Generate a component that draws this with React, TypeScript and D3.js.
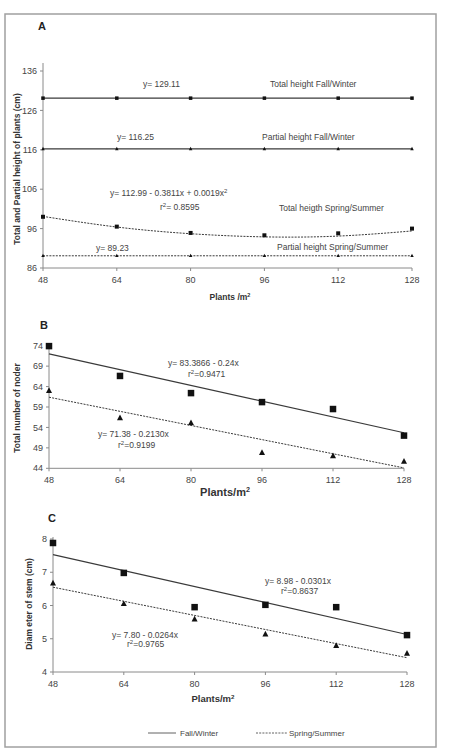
import React from "react";
import * as d3 from "d3";

// plants per m2
const densities = [48, 64, 80, 96, 112, 128];

// Panel A - height (cm)
const totalFallA = [129.11, 129.11, 129.11, 129.11, 129.11, 129.11];
const partialFallA = [116.25, 116.25, 116.25, 116.25, 116.25, 116.25];
const totalSpringA = [99.0, 96.5, 94.9, 94.3, 94.8, 96.0];
const totalSpringTrendA = [99.1, 96.4, 94.7, 93.9, 94.1, 95.4];
const partialSpringA = [89.1, 89.1, 89.1, 89.1, 89.1, 89.1];
const ticksA = [86, 96, 106, 116, 126, 136];

// Panel B - number of nodes
const fallB = [73.9, 66.6, 62.4, 60.2, 58.5, 52.0];
const springB = [63.0, 56.3, 55.1, 47.8, 47.0, 45.7];
const fallTrendB = [72.0, 52.7];
const springTrendB = [61.4, 44.1];
const ticksB = [44, 49, 54, 59, 64, 69, 74];

// Panel C - stem diameter
const fallC = [7.88, 6.98, 5.95, 6.02, 5.95, 5.11];
const springC = [6.67, 6.05, 5.59, 5.14, 4.79, 4.56];
const fallTrendC = [7.53, 5.13];
const springTrendC = [6.55, 4.43];
const ticksC = [4, 5, 6, 7, 8];

const trendX = [48, 128];

const FONT = "'Liberation Sans', Arial, sans-serif";
const AXIS = "#8a8a8a";
const TXT = "#444";
const LINE = "#3a3a3a";

type Series = {
  values: number[];
  xs?: number[];
  marker?: "square" | "triangle";
  size?: number;
  dash?: string;
  curve?: boolean;
  width?: number;
};

type Note = { x: number; y: number; text: React.ReactNode; anchor?: string };

function Marker({ kind, cx, cy, s }: { kind: string; cx: number; cy: number; s: number }) {
  if (kind === "square") {
    return <rect x={cx - s / 2} y={cy - s / 2} width={s} height={s} fill="#111" />;
  }
  const h = s * 0.95;
  return (
    <path
      d={`M${cx},${cy - h * 0.6} L${cx + s / 2},${cy + h * 0.4} L${cx - s / 2},${cy + h * 0.4} Z`}
      fill="#111"
    />
  );
}

function Panel(props: {
  letter: string;
  letterPos: [number, number];
  xRange: [number, number];
  yRange: [number, number];
  yDomain: [number, number];
  yTicks: number[];
  axisTop: number;
  series: Series[];
  notes: Note[];
  yTitle: string;
  yTitlePos: [number, number];
  xTitle: React.ReactNode;
  xTitlePos: [number, number];
  xTitleSize: number;
}) {
  const x = d3.scaleLinear().domain([48, 128]).range(props.xRange);
  const y = d3.scaleLinear().domain(props.yDomain).range(props.yRange);
  const x0 = props.xRange[0];
  const yBottom = props.yRange[0];

  return (
    <g>
      <text x={props.letterPos[0]} y={props.letterPos[1]} fontSize={11} fontWeight="bold" fill="#222" fontFamily={FONT}>
        {props.letter}
      </text>

      {/* axes */}
      <line x1={x0} x2={x0} y1={props.axisTop} y2={yBottom} stroke={AXIS} strokeWidth={1} />
      <line x1={x0} x2={props.xRange[1]} y1={yBottom} y2={yBottom} stroke={AXIS} strokeWidth={1} />
      {props.yTicks.map((t) => (
        <g key={`y${t}`}>
          <line x1={x0 - 3} x2={x0} y1={y(t)} y2={y(t)} stroke={AXIS} />
          <text x={x0 - 6} y={y(t)} dy="0.35em" textAnchor="end" fontSize={9} fill={TXT} fontFamily={FONT}>
            {t}
          </text>
        </g>
      ))}
      {densities.map((t) => (
        <g key={`x${t}`}>
          <line x1={x(t)} x2={x(t)} y1={yBottom} y2={yBottom + 3} stroke={AXIS} />
          <text x={x(t)} y={yBottom + 15} textAnchor="middle" fontSize={9} fill={TXT} fontFamily={FONT}>
            {t}
          </text>
        </g>
      ))}

      {/* lines */}
      {props.series.map((s, i) => {
        const xs = s.xs || densities;
        const gen = d3
          .line<number>()
          .x((_, j) => x(xs[j]))
          .y((v) => y(v))
          .curve(s.curve ? d3.curveNatural : d3.curveLinear);
        if (s.marker) {
          return (
            <g key={i}>
              {s.dash !== "none" && (
                <path d={gen(s.values) || ""} fill="none" stroke={LINE} strokeWidth={s.width || 1} strokeDasharray={s.dash} />
              )}
              {s.values.map((v, j) => (
                <Marker key={j} kind={s.marker!} cx={x(xs[j])} cy={y(v)} s={s.size || 4} />
              ))}
            </g>
          );
        }
        return (
          <path key={i} d={gen(s.values) || ""} fill="none" stroke={LINE} strokeWidth={s.width || 1} strokeDasharray={s.dash} />
        );
      })}

      {props.notes.map((n, i) => (
        <text key={i} x={n.x} y={n.y} fontSize={8.5} fill={TXT} fontFamily={FONT} textAnchor={n.anchor || "start"}>
          {n.text}
        </text>
      ))}

      <text
        transform={`translate(${props.yTitlePos[0]},${props.yTitlePos[1]}) rotate(-90)`}
        textAnchor="middle"
        fontSize={8.5}
        fontWeight="bold"
        fill="#333"
        fontFamily={FONT}
      >
        {props.yTitle}
      </text>
      <text
        x={props.xTitlePos[0]}
        y={props.xTitlePos[1]}
        textAnchor="middle"
        fontSize={props.xTitleSize}
        fontWeight="bold"
        fill="#333"
        fontFamily={FONT}
      >
        {props.xTitle}
      </text>
    </g>
  );
}

const sup2 = (size: number) => (
  <tspan fontSize={size * 0.65} dy={-size * 0.35}>2</tspan>
);

export default function App() {
  return (
    <svg
      width={458}
      height={750}
      style={{ position: "absolute", left: 0, top: 0, background: "#fff" }}
    >
      <rect x={0} y={0} width={458} height={750} fill="#fff" />
      <rect x={5} y={14} width={431} height={733} fill="none" stroke="#a0a0a0" strokeWidth={1.5} />

      <Panel
        letter="A"
        letterPos={[38, 30]}
        xRange={[43, 412]}
        yRange={[268, 71]}
        yDomain={[86, 136]}
        yTicks={ticksA}
        axisTop={63}
        series={[
          { values: totalFallA, marker: "square", size: 3.5, width: 1.2 },
          { values: partialFallA, marker: "triangle", size: 3.5, width: 1.2 },
          { values: totalSpringTrendA, curve: true, dash: "2,1.2", width: 1 },
          { values: totalSpringA, marker: "square", size: 4, dash: "none" },
          { values: partialSpringA, marker: "triangle", size: 3.5, dash: "2,1.2", width: 1 },
        ]}
        notes={[
          { x: 143, y: 87, text: "y= 129.11" },
          { x: 270, y: 87, text: "Total height Fall/Winter" },
          { x: 117, y: 140, text: "y= 116.25" },
          { x: 262, y: 140, text: "Partial height Fall/Winter" },
          { x: 110, y: 196, text: <>y= 112.99 - 0.3811x + 0.0019x<tspan fontSize={6} dy={-3}>2</tspan></> },
          { x: 160, y: 210, text: <>r<tspan fontSize={6} dy={-3}>2</tspan><tspan dy={3}>= 0.8595</tspan></> },
          { x: 279, y: 211, text: "Total heigth Spring/Summer" },
          { x: 96, y: 251, text: "y= 89.23" },
          { x: 277, y: 250, text: "Partial height Spring/Summer" },
        ]}
        yTitle="Total and Partial height of plants (cm)"
        yTitlePos={[20, 169]}
        xTitle={<>Plants /m{sup2(8.5)}</>}
        xTitlePos={[230, 300]}
        xTitleSize={8.5}
      />

      <Panel
        letter="B"
        letterPos={[40, 329]}
        xRange={[49, 404]}
        yRange={[468.3, 345.7]}
        yDomain={[44, 74]}
        yTicks={ticksB}
        axisTop={343}
        series={[
          { values: fallTrendB, xs: trendX, width: 1.1 },
          { values: springTrendB, xs: trendX, dash: "2,1.2", width: 1 },
          { values: fallB, marker: "square", size: 6.5, dash: "none" },
          { values: springB, marker: "triangle", size: 6, dash: "none" },
        ]}
        notes={[
          { x: 168, y: 366, text: "y= 83.3866 - 0.24x" },
          { x: 188, y: 377, text: <>r<tspan fontSize={6} dy={-3}>2</tspan><tspan dy={3}>=0.9471</tspan></> },
          { x: 98, y: 437, text: "y= 71.38 - 0.2130x" },
          { x: 118, y: 448, text: <>r<tspan fontSize={6} dy={-3}>2</tspan><tspan dy={3}>=0.9199</tspan></> },
        ]}
        yTitle="Total number of noder"
        yTitlePos={[20, 408]}
        xTitle={<>Plants/m{sup2(11)}</>}
        xTitlePos={[225, 496]}
        xTitleSize={11}
      />

      <Panel
        letter="C"
        letterPos={[48, 522]}
        xRange={[53, 407]}
        yRange={[672, 539]}
        yDomain={[4, 8]}
        yTicks={ticksC}
        axisTop={537}
        series={[
          { values: fallTrendC, xs: trendX, width: 1.1 },
          { values: springTrendC, xs: trendX, dash: "2,1.2", width: 1 },
          { values: fallC, marker: "square", size: 6.5, dash: "none" },
          { values: springC, marker: "triangle", size: 6, dash: "none" },
        ]}
        notes={[
          { x: 265, y: 584, text: "y= 8.98 - 0.0301x" },
          { x: 281, y: 594, text: <>r<tspan fontSize={6} dy={-3}>2</tspan><tspan dy={3}>=0.8637</tspan></> },
          { x: 112, y: 638, text: "y= 7.80 - 0.0264x" },
          { x: 127, y: 647, text: <>r<tspan fontSize={6} dy={-3}>2</tspan><tspan dy={3}>=0.9765</tspan></> },
        ]}
        yTitle="Diam eter of stem (cm)"
        yTitlePos={[32, 604]}
        xTitle={<>Plants/m{sup2(9.5)}</>}
        xTitlePos={[213, 702]}
        xTitleSize={9.5}
      />

      {/* legend */}
      <line x1={148} x2={176} y1={733} y2={733} stroke={LINE} strokeWidth={0.8} />
      <text x={180} y={736} fontSize={8} fill={TXT} fontFamily={FONT}>Fall/Winter</text>
      <line x1={256} x2={287} y1={733} y2={733} stroke={LINE} strokeWidth={0.8} strokeDasharray="2,1.2" />
      <text x={289} y={736} fontSize={8} fill={TXT} fontFamily={FONT}>Spring/Summer</text>
    </svg>
  );
}
